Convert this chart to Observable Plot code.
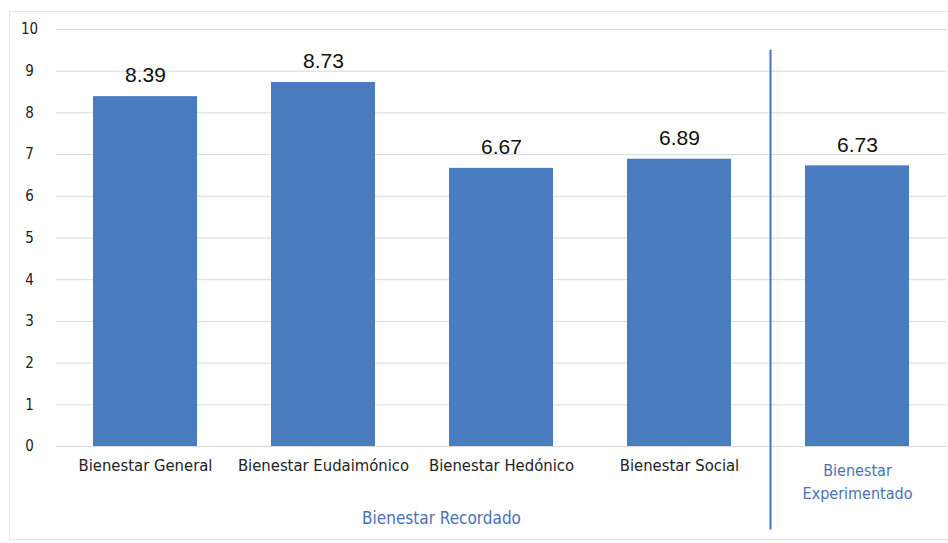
<!DOCTYPE html>
<html>
<head>
<meta charset="utf-8">
<script src="https://cdn.jsdelivr.net/npm/d3@7"></script>
<script src="https://cdn.jsdelivr.net/npm/@observablehq/plot@0.6"></script>
<style>
  body { margin: 0; background: #fff; }
  #wrap { position: relative; width: 948px; height: 543px; }
  #frame { position: absolute; left: 9px; top: 11px; width: 945px; height: 529px; border: 1px solid #e4e4e4; box-sizing: border-box; pointer-events: none; }
</style>
</head>
<body>
<div id="wrap"><div id="frame"></div></div>
<script>
const categories = ["Bienestar General", "Bienestar Eudaimónico", "Bienestar Hedónico", "Bienestar Social", "Bienestar Experimentado"];
const values = [8.39, 8.73, 6.67, 6.89, 6.73];
const valueLabels = ["8.39", "8.73", "6.67", "6.89", "6.73"];
const yTicks = [0, 1, 2, 3, 4, 5, 6, 7, 8, 9, 10];
const groupLabel = "Bienestar Recordado";
const experimentadoLabel = "Bienestar\nExperimentado";

const data = categories.map((c, i) => ({category: c, value: values[i], label: valueLabels[i]}));

const font = "'DejaVu Sans Condensed', 'Liberation Sans Narrow', 'Liberation Sans', sans-serif";
const blue = "#4a7dbf";
const textBlue = "#4a72b0";

const chart = Plot.plot({
  width: 948,
  height: 543,
  marginTop: 29,
  marginBottom: 97,
  marginLeft: 56,
  marginRight: 2,
  style: {fontFamily: font, fontSize: "13px", color: "#222", background: "transparent"},
  x: {domain: categories, paddingInner: 0.416, paddingOuter: 0.208, label: null},
  y: {domain: [0, 10], label: null},
  marks: [
    Plot.gridY(yTicks, {stroke: "#d9d9d9", strokeOpacity: 1, strokeWidth: 1}),
    Plot.axisY(yTicks, {tickSize: 0, tickPadding: 0, dx: -27, textAnchor: "middle", fontSize: 15, fill: "#222", label: null}),
    Plot.barY(data, {x: "category", y: "value", fill: blue}),
    Plot.text(data, {x: "category", y: "value", text: "label", dy: -21, fontSize: 21, fontFamily: "'Liberation Sans', 'Open Sans', sans-serif", fill: "#111"}),
    Plot.axisX({tickSize: 0, tickPadding: 13, fontSize: 16.5, fill: "#222", label: null,
      tickFormat: d => d === "Bienestar Experimentado" ? "" : d}),
    Plot.text([experimentadoLabel], {x: () => "Bienestar Experimentado", y: () => 0, text: d => d, dy: 13, lineAnchor: "top", lineHeight: 1.45, fill: textBlue, fontSize: 16}),
    Plot.text([groupLabel], {x: () => "Bienestar Hedónico", y: () => 0, text: d => d, dy: 72, dx: -60, fill: textBlue, fontSize: 17}),
    Plot.ruleX(["Bienestar Experimentado"], {x: d => d, y1: -2.0, y2: 9.5, dx: -87, stroke: "#4472c4", strokeWidth: 2})
  ]
});
document.getElementById("wrap").appendChild(chart);
</script>
</body>
</html>
